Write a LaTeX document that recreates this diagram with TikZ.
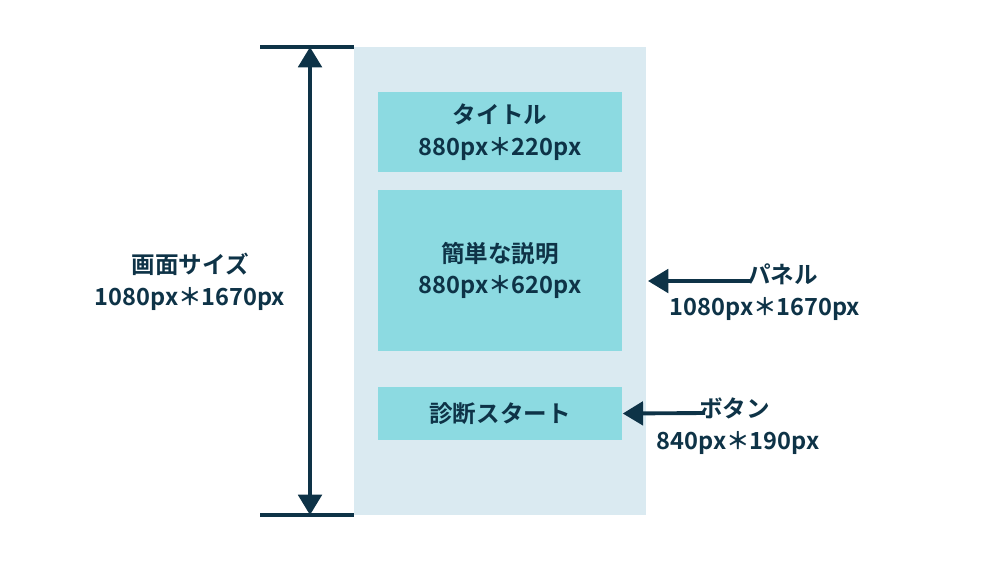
\documentclass[tikz,border=0pt]{standalone}
\usepackage{fontspec}
\setmainfont{Noto Sans CJK JP}[BoldFont={Noto Sans CJK JP Bold}]
\usetikzlibrary{arrows.meta,positioning}
\definecolor{panelbg}{HTML}{DAEAF1}
\definecolor{boxfill}{HTML}{8CDAE1}
\definecolor{navy}{HTML}{0E3347}
\begin{document}
\begin{tikzpicture}[x=0.01cm, y=-0.01cm, >=Triangle,
   part/.style={fill=boxfill, draw=none, minimum width=2.44cm, inner sep=0},
   lbl/.style={text=navy, font=\bfseries\fontsize{6.7}{9}\selectfont, align=center},
   dim/.style={draw=navy, line width=1.1pt}]
   \useasboundingbox (0,0) rectangle (1000,563);
   \node (panel) at (500,281) [fill=panelbg, minimum width=2.92cm, minimum height=4.68cm, inner sep=0] {};
   \node (title) at (500,132) [part, minimum height=0.8cm, lbl] {タイトル\\880px＊220px};
   \node (desc) at (500,270.5) [part, minimum height=1.61cm, lbl] {簡単な説明\\880px＊620px};
   \node (btn) at (500,413.5) [part, minimum height=0.53cm, lbl] {診断スタート};
   \coordinate (top) at (310,47);
   \coordinate (bot) at (310,515);
   \draw[dim] (260,47) -- (354,47);
   \draw[dim] (260,515) -- (354,515);
   \draw[dim, <->] (top) -- (bot);
   \node (size) at (190,282) [lbl] {画面サイズ\\1080px＊1670px};
   \node (plbl) at (765,292) [lbl] {\hspace*{10pt}パネル\\1080px＊1670px};
   \node (blbl) at (738,426) [lbl] {\hspace*{-2pt}ボタン\\840px＊190px};
   \coordinate (pa) at (750,281);
   \coordinate (ba) at (705,413);
   \draw[dim, ->] (pa) -- (648,281);
   \draw[dim, ->] (ba) -- (btn.east);
\end{tikzpicture}
\end{document}
